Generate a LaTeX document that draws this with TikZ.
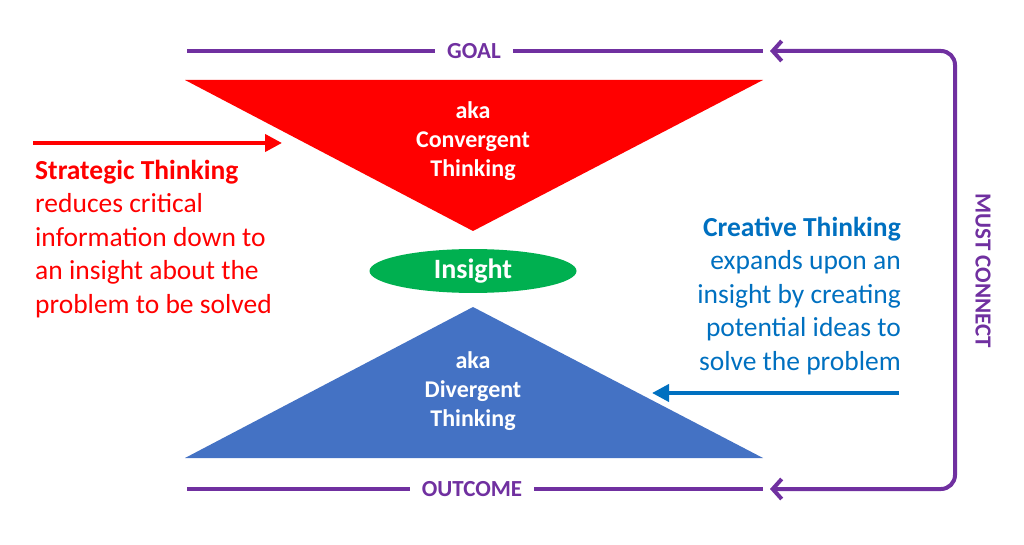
\documentclass[tikz,border=0pt]{standalone}
\usepackage{fontspec}
\setmainfont{Carlito}
\usepackage{xcolor}
\usetikzlibrary{shapes.geometric, arrows.meta, positioning}
\definecolor{goalPurple}{RGB}{112,48,160}
\definecolor{stratRed}{RGB}{255,0,0}
\definecolor{creaBlue}{RGB}{0,112,192}
\definecolor{divBlue}{RGB}{68,114,196}
\definecolor{insGreen}{RGB}{0,176,80}
\tikzstyle{purpleLine} = [line width=4pt, goalPurple]
\tikzstyle{redArrow} = [line width=4pt, stratRed, -{Triangle[length=17pt,width=17pt]}]
\tikzstyle{blueArrow} = [line width=4pt, creaBlue, -{Triangle[length=17pt,width=17pt]}]
\tikzstyle{endText} = [text=goalPurple, font=\fontsize{23}{27}\selectfont\bfseries, inner sep=12pt]
\tikzstyle{triText} = [text=white, font=\fontsize{24}{29}\selectfont\bfseries, align=center]
\tikzstyle{sideText} = [font=\fontsize{27.5}{33.4}\selectfont, inner sep=0pt]
\begin{document}
\begin{tikzpicture}[x=1pt, y=-1pt]
\useasboundingbox (0,0) rectangle (1024,545);
\coordinate (convL) at (185,80);
\coordinate (convR) at (763,80);
\coordinate (convTip) at (473,231);
\coordinate (divTip) at (473,307);
\coordinate (divL) at (185,458);
\coordinate (divR) at (763,458);
\fill [stratRed] (convL) -- (convR) -- (convTip) -- cycle;
\fill [divBlue] (divL) -- (divR) -- (divTip) -- cycle;
\node (conv) [triText] at (473,141) {aka\\Convergent\\Thinking};
\node (div) [triText] at (473,391) {aka\\Divergent\\Thinking};
\node (insight) [ellipse, fill=insGreen, minimum width=207pt, minimum height=42pt, text=white, font=\fontsize{28}{32}\selectfont\bfseries] at (473,271) {Insight};
\node (goal) [endText] at (474,51) {GOAL};
\node (outcome) [endText] at (472,489) {OUTCOME};
\coordinate (goalL) at (187,51);
\coordinate (goalR) at (763,51);
\coordinate (outL) at (187,489);
\coordinate (outR) at (763,489);
\coordinate (goalTip) at (770,51);
\coordinate (outTip) at (770,489);
\coordinate (connX) at (955,0);
\draw [purpleLine] (goalL) -- (goal);
\draw [purpleLine] (goal) -- (goalR);
\draw [purpleLine] (outL) -- (outcome);
\draw [purpleLine] (outcome) -- (outR);
\draw [purpleLine, rounded corners=14pt, {Straight Barb[length=9pt,width=20pt]}-{Straight Barb[length=9pt,width=20pt]}] (goalTip) -- (goalTip -| connX) -- (outTip -| connX) -- (outTip);
\node (must) [endText, rotate=-90] at (983,271) {MUST CONNECT};
\node (strat) [sideText, text=stratRed, anchor=base west, align=left] at (35,313) {\textbf{Strategic Thinking}\\reduces critical\\information down to\\an insight about the\\problem to be solved};
\node (crea) [sideText, text=creaBlue, anchor=base east, align=right] at (901,370) {\textbf{Creative Thinking}\\expands upon an\\insight by creating\\potential ideas to\\solve the problem};
\coordinate (stratStart) at (33,143);
\coordinate (stratEnd) at (282,143);
\coordinate (creaStart) at (899,393);
\coordinate (creaEnd) at (652,393);
\draw [redArrow] (stratStart) -- (stratEnd);
\draw [blueArrow] (creaStart) -- (creaEnd);
\end{tikzpicture}
\end{document}
